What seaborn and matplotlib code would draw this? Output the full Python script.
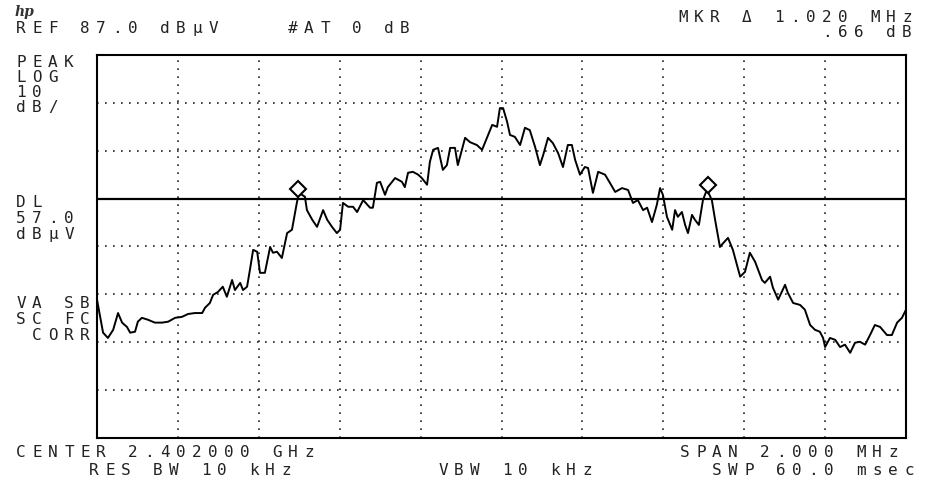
import numpy as np
import matplotlib
matplotlib.use("Agg")
import matplotlib.pyplot as plt
import matplotlib.transforms as mtransforms
import seaborn as sns

# trace: offset from centre (MHz) and level (dBuV)
freq_mhz = [-1.000, -0.985, -0.973, -0.960, -0.948, -0.938, -0.926, -0.918, -0.906, -0.899,
            -0.889, -0.874, -0.857, -0.839, -0.824, -0.807, -0.790, -0.775, -0.758, -0.740,
            -0.733, -0.721, -0.713, -0.701, -0.689, -0.679, -0.666, -0.659, -0.646, -0.639,
            -0.629, -0.622, -0.614, -0.604, -0.597, -0.585, -0.572, -0.565, -0.555, -0.543,
            -0.530, -0.518, -0.506, -0.501, -0.486, -0.481, -0.468, -0.456, -0.441, -0.431,
            -0.419, -0.407, -0.399, -0.392, -0.379, -0.367, -0.357, -0.342, -0.325, -0.318,
            -0.308, -0.300, -0.288, -0.281, -0.263, -0.246, -0.239, -0.231, -0.219, -0.206,
            -0.197, -0.184, -0.177, -0.169, -0.157, -0.145, -0.135, -0.127, -0.115, -0.108,
            -0.098, -0.090, -0.078, -0.061, -0.048, -0.036, -0.023, -0.011, -0.004, 0.004,
            0.014, 0.021, 0.033, 0.046, 0.058, 0.070, 0.083, 0.095, 0.103, 0.115,
            0.127, 0.140, 0.152, 0.164, 0.174, 0.182, 0.194, 0.206, 0.214, 0.226,
            0.239, 0.256, 0.268, 0.281, 0.298, 0.313, 0.325, 0.337, 0.350, 0.360,
            0.372, 0.384, 0.392, 0.399, 0.409, 0.422, 0.429, 0.436, 0.446, 0.454,
            0.461, 0.471, 0.478, 0.488, 0.498, 0.508, 0.520, 0.528, 0.540, 0.548,
            0.560, 0.572, 0.590, 0.602, 0.614, 0.627, 0.644, 0.651, 0.664, 0.671,
            0.684, 0.701, 0.708, 0.721, 0.738, 0.750, 0.763, 0.775, 0.787, 0.795,
            0.800, 0.812, 0.825, 0.837, 0.849, 0.862, 0.874, 0.886, 0.899, 0.911,
            0.923, 0.936, 0.953, 0.965, 0.978, 0.990, 1.000]
level_dbuv = [35.9, 29.0, 27.9, 29.6, 33.1, 31.1, 30.2, 29.0, 29.2, 31.3,
              32.1, 31.7, 31.1, 31.1, 31.3, 32.1, 32.3, 32.9, 33.1, 33.1,
              34.2, 35.2, 36.9, 37.5, 38.6, 36.5, 40.0, 37.9, 39.4, 37.9,
              38.6, 42.1, 46.3, 45.9, 41.5, 41.5, 46.9, 45.7, 45.9, 44.6,
              49.8, 50.5, 56.1, 58.2, 57.4, 54.6, 52.6, 51.1, 54.6, 52.6,
              51.1, 49.8, 50.5, 56.1, 55.3, 55.3, 54.2, 56.7, 55.1, 55.1,
              60.3, 60.5, 57.8, 59.4, 61.3, 60.5, 59.4, 62.4, 62.6, 62.0,
              61.3, 59.9, 64.7, 67.2, 67.6, 63.0, 64.0, 67.6, 67.6, 64.0,
              67.2, 69.7, 68.8, 68.2, 67.2, 69.7, 72.4, 72.0, 75.9, 75.9,
              73.0, 70.3, 69.9, 68.2, 71.8, 71.3, 67.8, 64.0, 66.1, 69.7,
              68.6, 66.5, 63.6, 68.2, 68.2, 65.1, 62.0, 63.6, 63.4, 58.2,
              62.6, 62.0, 60.3, 58.4, 59.2, 58.8, 56.1, 56.7, 54.6, 55.1,
              52.1, 55.7, 59.2, 57.8, 53.2, 50.5, 54.6, 53.2, 54.2, 51.5,
              49.8, 53.6, 52.6, 51.5, 56.7, 58.9, 56.7, 52.6, 46.9, 47.7,
              48.8, 46.3, 40.7, 41.7, 45.7, 43.8, 40.0, 39.4, 40.7, 38.4,
              35.9, 39.0, 37.3, 35.2, 34.8, 33.8, 30.6, 29.6, 29.2, 27.9,
              26.0, 27.9, 27.5, 26.0, 26.5, 24.8, 26.9, 27.1, 26.5, 28.5,
              30.6, 30.2, 28.5, 28.5, 31.1, 32.1, 33.8]

mkr_freq = [-0.503, 0.510]
mkr_level = [58.2, 58.9]

ref_level = 87.0
db_per_div = 10
n_ydiv = 8
display_line = 57.0

# screen annotations: (x px, baseline px, text)
annotations = [
    (677, 22, "MKR \u0394 1.020 MHz"),
    (821, 37, ".66 dB"),
    (15, 33, "REF 87.0 dB\u00b5V    #AT 0 dB"),
    (15, 67, "PEAK"),
    (15, 82, "LOG"),
    (15, 97, "10"),
    (15, 112, "dB/"),
    (15, 207, "DL"),
    (15, 223, "57.0"),
    (15, 239, "dB\u00b5V"),
    (15, 308, "VA SB"),
    (15, 324, "SC FC"),
    (31, 340, "CORR"),
    (15, 457, "CENTER 2.402000 GHz"),
    (88, 475, "RES BW 10 kHz"),
    (437, 475, "VBW 10 kHz"),
    (679, 457, "SPAN 2.000 MHz"),
    (711, 475, "SWP 60.0 msec"),
]

sns.set_style("white")
plt.rcParams['font.family'] = ['DejaVu Sans Mono', 'DejaVu Sans']

W, H = 933, 487
fig = plt.figure(figsize=(W / 100, H / 100), dpi=100)
fig.patch.set_facecolor("white")
ax = fig.add_axes([97 / W, 1 - 438 / H, (906 - 97) / W, (438 - 55) / H])

ybot = ref_level - n_ydiv * db_per_div
ax.set_xlim(-1, 1)
ax.set_ylim(ybot, ref_level)

# dotted graticule
dots = (0, (1, 3.8))
for gx in np.linspace(-1, 1, 11)[1:-1]:
    ax.axvline(gx, color="#222222", lw=1.2, ls=dots)
for gy in np.arange(ybot + db_per_div, ref_level, db_per_div):
    if gy != display_line:
        ax.axhline(gy, color="#222222", lw=1.2, ls=dots)

ax.axhline(display_line, color="black", lw=1.6)

sns.lineplot(x=freq_mhz, y=level_dbuv, ax=ax, color="black", lw=1.4,
             estimator=None, sort=False)

lift = mtransforms.ScaledTranslation(0, 3 / 72, fig.dpi_scale_trans)
ax.plot(mkr_freq, mkr_level, ls="none", marker="D", ms=8, mfc="white",
        mec="black", mew=1.5, transform=ax.transData + lift, zorder=5)

ax.set_xticks([])
ax.set_yticks([])
ax.set_xlabel("")
ax.set_ylabel("")
for sp in ax.spines.values():
    sp.set_color("black")
    sp.set_linewidth(1.5)


def lcd(x0, yb, s, pitch=16):
    # fixed pitch, one char per cell like the analyser screen
    for i, ch in enumerate(s):
        if ch != " ":
            fig.text((x0 + i * pitch + 6) / W, 1 - yb / H, ch, ha="center",
                     va="baseline", fontsize=11.5, color="#222222")


for x0, yb, s in annotations:
    lcd(x0, yb, s)

fig.text(15 / W, 1 - 16 / H, "hp", fontsize=10, style="italic",
         fontweight="bold", color="#333333", family="DejaVu Serif")

fig.savefig("out.png", dpi=100)
